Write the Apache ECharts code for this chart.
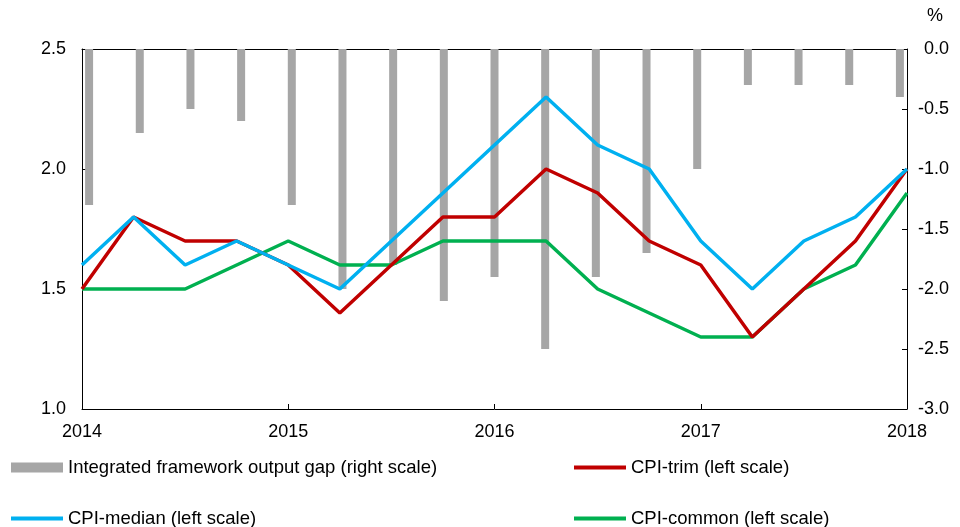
<!DOCTYPE html>
<html>
<head>
<meta charset="utf-8">
<script src="https://cdn.jsdelivr.net/npm/echarts@6/dist/echarts.min.js"></script>
<style>
  html, body { margin: 0; padding: 0; background: #fff; }
  #chart { width: 960px; height: 527px; }
</style>
</head>
<body>
<div id="chart"></div>
<script>
// 季度数据 2014Q1 - 2018Q1
var years = ['2014', '2015', '2016', '2017', '2018'];
var outputGap = [-1.3, -0.7, -0.5, -0.6, -1.3, -2.0, -1.8, -2.1, -1.9, -2.5, -1.9, -1.7, -1.0, -0.3, -0.3, -0.3, -0.4];
var cpiTrim = [1.5, 1.8, 1.7, 1.7, 1.6, 1.4, 1.6, 1.8, 1.8, 2.0, 1.9, 1.7, 1.6, 1.3, 1.5, 1.7, 2.0];
var cpiMedian = [1.6, 1.8, 1.6, 1.7, 1.6, 1.5, 1.7, 1.9, 2.1, 2.3, 2.1, 2.0, 1.7, 1.5, 1.7, 1.8, 2.0];
var cpiCommon = [1.5, 1.5, 1.5, 1.6, 1.7, 1.6, 1.6, 1.7, 1.7, 1.7, 1.5, 1.4, 1.3, 1.3, 1.5, 1.6, 1.9];

var names = {
    gap: 'Integrated framework output gap (right scale)',
    trim: 'CPI-trim (left scale)',
    median: 'CPI-median (left scale)',
    common: 'CPI-common (left scale)'
};

function pairs(arr) {
    return arr.map(function (v, i) { return [i, v]; });
}

var font = 'Liberation Sans, Arial, sans-serif';
var axisColor = '#000';

var myChart = echarts.init(document.getElementById('chart'));

function legendItem(name, left, top, h) {
    return {
        data: [{ name: name, icon: 'rect' }],
        left: left,
        top: top,
        itemWidth: 52,
        itemHeight: h,
        itemGap: 0,
        padding: 0,
        selectedMode: false,
        textStyle: { fontFamily: font, fontSize: 18.5, color: '#000' }
    };
}

var option = {
    animation: false,
    grid: { left: 82, right: 53, top: 49, bottom: 118 },
    legend: [
        legendItem(names.gap, 11, 458, 10),
        legendItem(names.trim, 574, 458, 4),
        legendItem(names.median, 11, 509, 4),
        legendItem(names.common, 574, 509, 4)
    ],
    xAxis: [
        {
            type: 'value',
            min: 0,
            max: 16,
            interval: 4,
            splitLine: { show: false },
            axisLine: { onZero: false, lineStyle: { color: axisColor } },
            axisTick: { inside: true, length: 5, lineStyle: { color: axisColor } },
            axisLabel: {
                margin: 14,
                fontFamily: font,
                fontSize: 18,
                color: '#000',
                formatter: function (v) { return years[v / 4]; }
            }
        },
        {
            // 柱子用的轴，两端略缩进
            type: 'value',
            position: 'top',
            min: -0.14,
            max: 16.14,
            splitLine: { show: false },
            axisLine: { onZero: false, lineStyle: { color: axisColor } },
            axisTick: { show: false },
            axisLabel: { show: false }
        }
    ],
    yAxis: [
        {
            type: 'value',
            min: 1,
            max: 2.5,
            interval: 0.5,
            splitLine: { show: false },
            axisLine: { show: true, onZero: false, lineStyle: { color: axisColor } },
            axisTick: { show: true, inside: true, length: 5, lineStyle: { color: axisColor } },
            axisLabel: {
                margin: 16,
                fontFamily: font,
                fontSize: 18,
                color: '#000',
                formatter: function (v) { return v.toFixed(1); }
            }
        },
        {
            type: 'value',
            min: -3,
            max: 0,
            interval: 0.5,
            position: 'right',
            splitLine: { show: false },
            axisLine: { show: true, onZero: false, lineStyle: { color: axisColor } },
            axisTick: { show: true, inside: true, length: 5, lineStyle: { color: axisColor } },
            axisLabel: {
                margin: 42,
                align: 'right',
                fontFamily: font,
                fontSize: 18,
                color: '#000',
                formatter: function (v) { return v.toFixed(1); }
            }
        }
    ],
    graphic: [
        {
            type: 'text',
            left: 927,
            top: 7,
            style: { text: '%', font: '18px ' + font, fill: '#000' }
        }
    ],
    series: [
        {
            name: names.gap,
            type: 'bar',
            xAxisIndex: 1,
            yAxisIndex: 1,
            barWidth: 8,
            itemStyle: { color: '#A6A6A6' },
            data: pairs(outputGap),
            z: 1
        },
        {
            name: names.trim,
            type: 'line',
            xAxisIndex: 0,
            yAxisIndex: 0,
            showSymbol: false,
            lineStyle: { width: 3.5, color: '#C00000' },
            itemStyle: { color: '#C00000' },
            data: pairs(cpiTrim),
            z: 3
        },
        {
            name: names.median,
            type: 'line',
            xAxisIndex: 0,
            yAxisIndex: 0,
            showSymbol: false,
            lineStyle: { width: 3.5, color: '#00B0F0' },
            itemStyle: { color: '#00B0F0' },
            data: pairs(cpiMedian),
            z: 4
        },
        {
            name: names.common,
            type: 'line',
            xAxisIndex: 0,
            yAxisIndex: 0,
            showSymbol: false,
            lineStyle: { width: 3.5, color: '#00B050' },
            itemStyle: { color: '#00B050' },
            data: pairs(cpiCommon),
            z: 2
        }
    ]
};
myChart.setOption(option);

window.onresize = function () {
    myChart.resize();
};
</script>
</body>
</html>
